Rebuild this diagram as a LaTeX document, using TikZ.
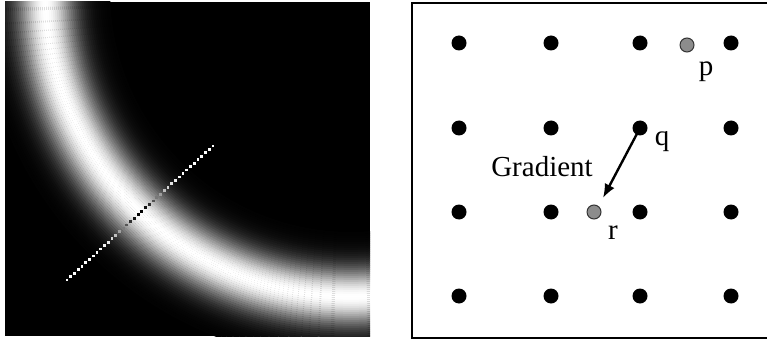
\documentclass[tikz,border=0pt]{standalone}
\usepackage{fontspec}
\setmainfont{Liberation Serif}
\usetikzlibrary{arrows.meta}
\definecolor{dotGray}{RGB}{140,140,140}
\tikzset{
    dot/.style={circle,fill=black,inner sep=0pt,minimum size=15pt},
    graydot/.style={circle,draw=black!80,fill=dotGray,line width=1pt,
        inner sep=0pt,minimum size=14pt},
    lbl/.style={font=\fontsize{29}{32}\selectfont,inner sep=0pt},
    arrow/.style={-{Latex[length=14pt,width=11pt]},line width=2.4pt}
}

\begin{document}
\begin{tikzpicture}[x=1pt,y=-1pt]
\useasboundingbox (0,0) rectangle (767,339);

% left panel: blurred ring
\begin{scope}
\clip (5,2) rectangle (370,336);
\fill[black] (5,2) rectangle (370,336);
\coordinate (ctr) at (351,-9);
\foreach \d in {-64,-62,...,64}{
    \pgfmathsetmacro\g{100*exp(-(\d*\d)/(2*20*20))}
    \draw[line width=2.3pt,white!\g!black] (ctr) circle[radius=306pt+\d pt];
}
% profile line across the ring
\foreach \i in {0,...,39}{
    \pgfmathsetmacro\px{67+146*\i/39}
    \pgfmathsetmacro\py{280-134*\i/39}
    \pgfmathsetmacro\rr{100*sqrt(((\px-351)/100)^2+((\py+9)/100)^2)}
    \pgfmathsetmacro\g{100-100*exp(-((\rr-306)*(\rr-306))/(2*20*20))}
    \fill[white!\g!black] (\px-1.4,\py-1.4) rectangle (\px+1.4,\py+1.4);
}
\end{scope}

% right panel: sampling grid
\draw[line width=1.5pt] (412,3) rectangle (769,338);

\foreach \x [count=\i] in {459,551,640,731}
    \foreach \y [count=\j] in {43,128,212,296}
        \node[dot] (d\j\i) at (\x,\y) {};

\node[graydot] (p) at (687,45) {};
\node[graydot] (r) at (594,212) {};

\node[lbl] (plbl) at (706,72) {p};
\node[lbl] (qlbl) at (662,142) {q};
\node[lbl] (rlbl) at (613,233) {r};
\node[lbl] (glbl) at (542,167) {Gradient};

\coordinate (gtip) at (603,198);
\draw[arrow] (d23.center) -- (gtip);

\end{tikzpicture}
\end{document}
